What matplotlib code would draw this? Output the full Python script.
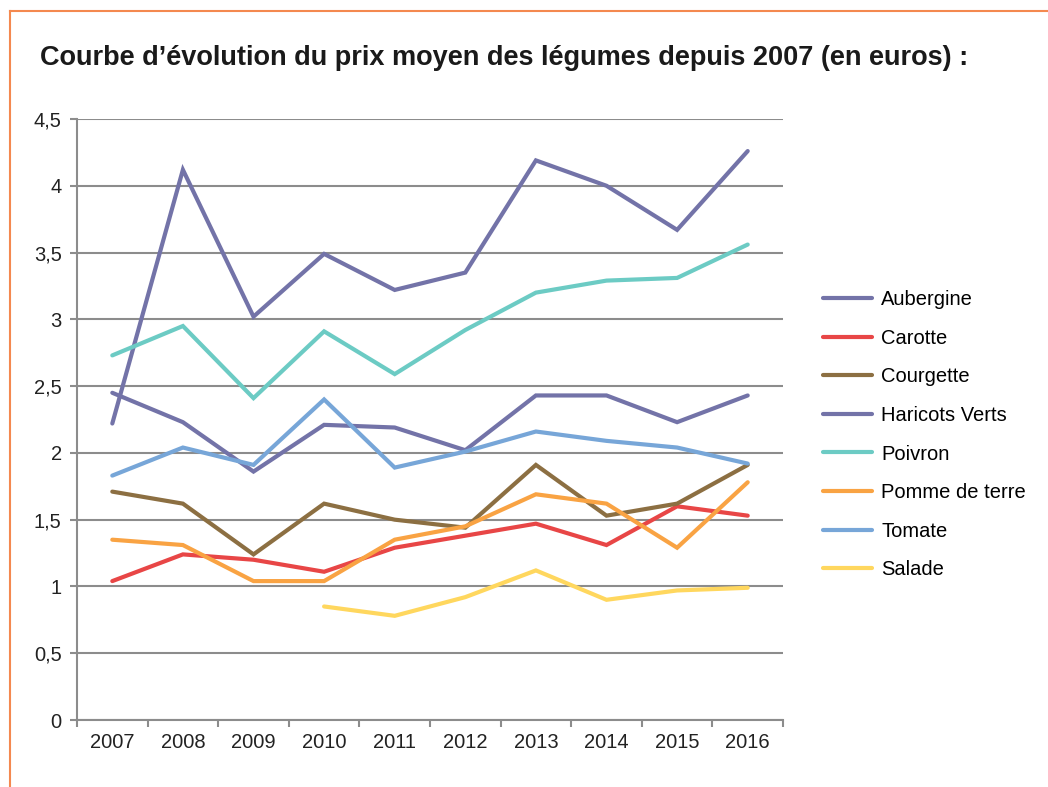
import numpy as np
import matplotlib
matplotlib.use('Agg')
import matplotlib.pyplot as plt

plt.rcParams['font.family'] = ['Liberation Sans Narrow', 'Liberation Sans', 'DejaVu Sans']

years = ['2007', '2008', '2009', '2010', '2011', '2012', '2013', '2014', '2015', '2016']

aubergine = [2.22, 4.12, 3.02, 3.49, 3.22, 3.35, 4.19, 4.00, 3.67, 4.26]
carotte = [1.04, 1.24, 1.20, 1.11, 1.29, 1.38, 1.47, 1.31, 1.60, 1.53]
courgette = [1.71, 1.62, 1.24, 1.62, 1.50, 1.44, 1.91, 1.53, 1.62, 1.91]
haricots = [2.45, 2.23, 1.86, 2.21, 2.19, 2.02, 2.43, 2.43, 2.23, 2.43]
poivron = [2.73, 2.95, 2.41, 2.91, 2.59, 2.92, 3.20, 3.29, 3.31, 3.56]
pomme = [1.35, 1.31, 1.04, 1.04, 1.35, 1.45, 1.69, 1.62, 1.29, 1.78]
tomate = [1.83, 2.04, 1.91, 2.40, 1.89, 2.01, 2.16, 2.09, 2.04, 1.92]
salade = [None, None, None, 0.85, 0.78, 0.92, 1.12, 0.90, 0.97, 0.99]

names = ['Aubergine', 'Carotte', 'Courgette', 'Haricots Verts', 'Poivron',
         'Pomme de terre', 'Tomate', 'Salade']
colors = ['#7373A8', '#E84646', '#8C6F42', '#7373A8', '#6CCBC4',
          '#F9A343', '#77A6D8', '#FFD75E']
series = [aubergine, carotte, courgette, haricots, poivron, pomme, tomate, salade]

fig = plt.figure(figsize=(10.48, 7.87), dpi=100)

# orange frame (top and left edges)
fig.add_artist(plt.Line2D([10/1048, 1], [1 - 11/787, 1 - 11/787], color='#F4894F', lw=1.5,
                          transform=fig.transFigure))
fig.add_artist(plt.Line2D([10/1048, 10/1048], [0, 1 - 11/787], color='#F4894F', lw=1.5,
                          transform=fig.transFigure))

fig.text(40/1048, 1 - 58/787, "Courbe d\u2019évolution du prix moyen des légumes depuis 2007 (en euros) :",
         fontsize=19.5, fontweight='bold', color='#1a1a1a', va='center', ha='left')

ax = fig.add_axes([77/1048, 1 - 720/787, 706/1048, 601/787])

x = np.arange(len(years))
for vals, name, c in zip(series, names, colors):
    y = np.array([np.nan if v is None else v for v in vals], dtype=float)
    ax.plot(x, y, color=c, lw=3, label=name, solid_capstyle='round', solid_joinstyle='miter')

ax.set_xlim(-0.5, 9.5)
ax.set_ylim(0, 4.5)
yt = np.arange(0, 4.51, 0.5)
ax.set_yticks(yt)
ax.set_yticklabels([('%g' % v).replace('.', ',') for v in yt])
ax.set_xticks(x)
ax.set_xticklabels(years)
ax.set_xticks(np.arange(-0.5, 10, 1), minor=True)
ax.tick_params(axis='x', which='major', length=0, pad=9, labelsize=14.5, colors='#222222')
ax.tick_params(axis='x', which='minor', length=5, width=1.5, color='#8c8c8c', direction='out')
ax.tick_params(axis='y', length=5, width=1.5, color='#8c8c8c', labelsize=14.5, pad=6,
               labelcolor='#222222')

ax.grid(axis='y', color='#8c8c8c', lw=1.5)
ax.set_axisbelow(True)
for s in ['top', 'right']:
    ax.spines[s].set_visible(False)
for s in ['left', 'bottom']:
    ax.spines[s].set_color('#8c8c8c')
    ax.spines[s].set_linewidth(1.5)

leg = ax.legend(loc='upper left', bbox_to_anchor=(1.031, 0.745), frameon=False,
                fontsize=14.5, handlelength=2.45, labelspacing=0.97, handletextpad=0.45)

fig.savefig('out.png', dpi=100)
